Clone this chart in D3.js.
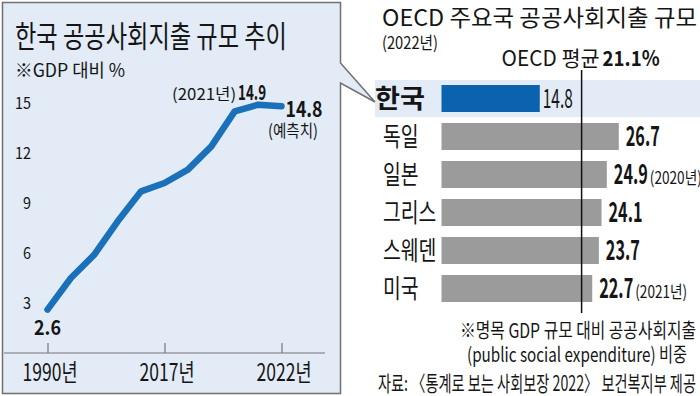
<!DOCTYPE html>
<html>
<head>
<meta charset="utf-8">
<script src="https://cdn.jsdelivr.net/npm/d3@7"></script>
<style>
  body { margin: 0; background: #fff; }
  svg text { font-family: 'Noto Sans CJK KR', 'Noto Sans', sans-serif; fill: #151515; }
</style>
</head>
<body>
<svg id="chart" width="700" height="396"></svg>
<script>
// left panel: korea, public social spending as % of GDP
const years = ["1990", "1995", "2000", "2005", "2010", "2017", "2018", "2019", "2020", "2021", "2022"];
const koreaShare = [2.6, 4.5, 5.9, 7.9, 9.7, 10.2, 11.0, 12.4, 14.5, 14.9, 14.8];
const yearTicks = ["1990", "2017", "2022"];
const shareTicks = [3, 6, 9, 12, 15];

// right panel: main OECD countries, 2022
const countries = ["한국", "독일", "일본", "그리스", "스웨덴", "미국"];
const spending = [14.8, 26.7, 24.9, 24.1, 23.7, 22.7];
const spendingNotes = ["", "", "(2020년)", "", "", "(2021년)"];
const oecdAverage = 21.1;

const boxFill = "#e2ebf6";
var svg = d3.select("#chart");

function fit(sel, len) {
    return sel.attr("textLength", len).attr("lengthAdjust", "spacingAndGlyphs");
}
function label(x, y, str, size, weight) {
    return svg.append("text").attr("x", x).attr("y", y).text(str)
        .style("font-size", size + "px").style("font-weight", weight || 400);
}

// ---- right panel scales (highlight row drawn under the callout box)
var bx = d3.scaleLinear().domain([0, 30]).range([441.5, 640.7]);
var by = d3.scaleBand().domain(countries).range([79.5, 307.5]).paddingInner(0.29).paddingOuter(0.145);
var bw = by.bandwidth();

svg.append("rect").attr("x", 375).attr("y", by(countries[0]) - 5)
    .attr("width", 325).attr("height", bw + 10).attr("fill", boxFill);

// ---- left panel box with callout pointer
svg.append("path")
    .attr("d", "M2.5,2.5H340.5V63L375,102L340.5,83V393.5H2.5Z")
    .attr("fill", boxFill).attr("stroke", "#707070").attr("stroke-width", 1.5);

fit(label(15, 47, "한국 공공사회지출 규모 추이", 30), 272);
fit(label(15, 77, "※GDP 대비 %", 18).attr("fill", "#333"), 110);

var x = d3.scalePoint().domain(years).range([47.5, 281.5]);
var y = d3.scaleLinear().domain([0, 15]).range([353, 103]);

var yAxis = svg.append("g").attr("transform", "translate(31,0)")
    .call(d3.axisLeft(y).tickValues(shareTicks).tickSize(0).tickPadding(0));
yAxis.select(".domain").remove();
yAxis.selectAll("text").style("font-size", "16px").attr("fill", "#333")
    .each(function (d) { fit(d3.select(this), d >= 10 ? 16 : 8); });

var xAxis = svg.append("g").attr("transform", "translate(0,353)")
    .call(d3.axisBottom(x).tickValues(yearTicks).tickSizeInner(-10).tickSizeOuter(0).tickFormat(d => d + "년"));
xAxis.select(".domain").remove();
xAxis.append("line").attr("x1", 4).attr("x2", 325).attr("stroke", "#777").attr("stroke-width", 1.2);
xAxis.selectAll(".tick line").attr("stroke", "#777").attr("stroke-width", 1.2);
fit(xAxis.selectAll(".tick text").attr("y", 28).attr("dy", null).attr("x", 2)
    .attr("fill", "#151515").style("font-size", "24px"), 55);

var line = d3.line().x((d, i) => x(years[i])).y(d => y(d));
svg.append("path").datum(koreaShare).attr("d", line)
    .attr("fill", "none").attr("stroke", "#1b71b9").attr("stroke-width", 6.5)
    .attr("stroke-linecap", "round").attr("stroke-linejoin", "round");

// point annotations
var n = years.length;
fit(label(x(years[0]), y(koreaShare[0]) + 25, koreaShare[0], 20, 700).attr("text-anchor", "middle"), 27);
var peakX = x(years[n - 2]) + 8, peakY = y(koreaShare[n - 2]) - 5;
fit(label(peakX - 28, peakY, koreaShare[n - 2], 21, 700), 28);
fit(label(peakX - 94, peakY, "(" + years[n - 2] + "년)", 16), 64);
fit(label(x(years[n - 1]) + 4, y(koreaShare[n - 1]) + 11, koreaShare[n - 1], 22, 700), 37);
fit(label(x(years[n - 1]) - 13.5, y(koreaShare[n - 1]) + 31, "(예측치)", 17), 50);

// ---- right panel
fit(label(382, 26, "OECD 주요국 공공사회지출 규모", 23), 315);
fit(label(382, 49, "(2022년)", 17), 56);

svg.selectAll(".bar").data(spending).enter().append("rect")
    .attr("class", "bar")
    .attr("x", bx(0))
    .attr("y", (d, i) => by(countries[i]))
    .attr("width", d => bx(d) - bx(0))
    .attr("height", bw)
    .attr("fill", (d, i) => i == 0 ? "#0b63b0" : "#9b9b9b");

svg.append("line").attr("x1", bx(oecdAverage)).attr("x2", bx(oecdAverage))
    .attr("y1", 70).attr("y2", 313).attr("stroke", "#111").attr("stroke-width", 1.5);
var avgX = bx(oecdAverage) - 80;
fit(label(avgX, 66, "OECD 평균", 21), 98);
fit(label(avgX + 101, 66, oecdAverage + "%", 21, 700), 57);

countries.forEach(function (c, i) {
    var cy = by(c) + bw / 2 + 9;
    if (i == 0) {
        fit(label(375, cy, c, 26, 700), 50);
        fit(label(bx(spending[i]) + 3, cy, spending[i], 27), 30);
    } else {
        fit(label(383, cy, c, 26), c.length * 17.8);
        fit(label(bx(spending[i]) + 7, cy, spending[i], 27, 700), 34);
        if (spendingNotes[i]) {
            fit(label(bx(spending[i]) + 43, cy, spendingNotes[i], 17), 52);
        }
    }
});

fit(label(460, 338, "※명목 GDP 규모 대비 공공사회지출", 20), 236);
fit(label(467, 362, "(public social expenditure) 비중", 20), 220);
fit(label(378, 391, "자료: 〈통계로 보는 사회보장 2022〉 보건복지부 제공", 21), 318);
</script>
</body>
</html>
